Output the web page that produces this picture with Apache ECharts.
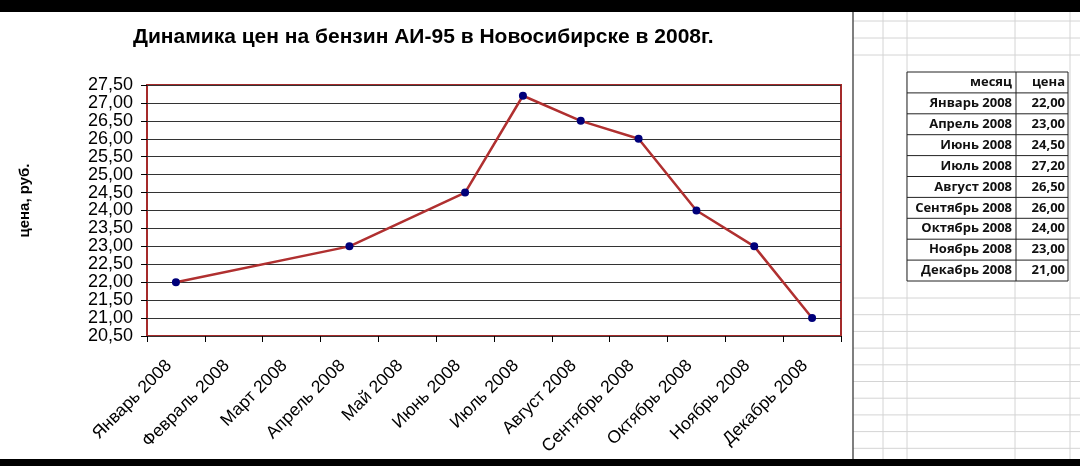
<!DOCTYPE html>
<html>
<head>
<meta charset="utf-8">
<script src="https://cdn.jsdelivr.net/npm/echarts@6/dist/echarts.min.js"></script>
<style>
html,body{margin:0;padding:0;background:#fff;}
#c{width:1080px;height:466px;}
</style>
</head>
<body>
<div id="c"></div>
<script>
const months = ['Январь 2008','Февраль 2008','Март 2008','Апрель 2008','Май 2008','Июнь 2008','Июль 2008','Август 2008','Сентябрь 2008','Октябрь 2008','Ноябрь 2008','Декабрь 2008'];
const prices = [22.00, null, null, 23.00, null, 24.50, 27.20, 26.50, 26.00, 24.00, 23.00, 21.00];
const yMin = 20.5, yMax = 27.5, yStep = 0.5;
const tableHeader = ['месяц', 'цена'];

const fmt = v => v.toFixed(2).replace('.', ',');

const chart = echarts.init(document.getElementById('c'), null, {renderer: 'canvas'});

const g = [];
// black bars top and bottom
g.push({type:'rect', shape:{x:0,y:0,width:1080,height:12}, style:{fill:'#000'}, z:100});
g.push({type:'rect', shape:{x:0,y:459,width:1080,height:7}, style:{fill:'#000'}, z:100});
// spreadsheet grid
const sheetCols = [883, 907, 1015, 1070];
sheetCols.forEach(x => g.push({type:'line', shape:{x1:x,y1:12,x2:x,y2:459}, style:{stroke:'#d4d4d4', lineWidth:1}, z:1}));
const sheetRowsTop = [21, 38, 55];
sheetRowsTop.forEach(y => g.push({type:'line', shape:{x1:853,y1:y,x2:1080,y2:y}, style:{stroke:'#d4d4d4', lineWidth:1}, z:1}));
for (let y = 298; y < 459; y += 16.7) {
  g.push({type:'line', shape:{x1:853,y1:y,x2:1080,y2:y}, style:{stroke:'#d4d4d4', lineWidth:1}, z:1});
}
g.push({type:'line', shape:{x1:853,y1:12,x2:853,y2:459}, style:{stroke:'#555', lineWidth:1.5}, z:2});

// table
const rows = [tableHeader];
months.forEach((m, i) => { if (prices[i] !== null) rows.push([m, fmt(prices[i])]); });
const tX0 = 907, tX1 = 1016, tX2 = 1068, tY0 = 72, rh = 20.9;
const tY1 = tY0 + rh * rows.length;
g.push({type:'rect', shape:{x:tX0,y:tY0,width:tX2-tX0,height:tY1-tY0}, style:{fill:'#fff', stroke:'#222', lineWidth:1}, z:3});
g.push({type:'line', shape:{x1:tX1,y1:tY0,x2:tX1,y2:tY1}, style:{stroke:'#222', lineWidth:1}, z:4});
rows.forEach((r, i) => {
  if (i > 0) g.push({type:'line', shape:{x1:tX0,y1:tY0+rh*i,x2:tX2,y2:tY0+rh*i}, style:{stroke:'#222', lineWidth:1}, z:4});
  const cy = tY0 + rh * i + rh / 2;
  g.push({type:'text', x:tX1-4, y:cy, style:{text:r[0], fill:'#111', font:'700 13px "Open Sans"', align:'right', verticalAlign:'middle'}, z:5});
  g.push({type:'text', x:tX2-3, y:cy, style:{text:r[1], fill:'#111', font:'700 13px "Open Sans"', align:'right', verticalAlign:'middle'}, z:5});
});

chart.setOption({
  backgroundColor: '#fff',
  animation: false,
  title: {
    text: 'Динамика цен на бензин АИ-95 в Новосибирске в 2008г.',
    left: 128, top: 22,
    textStyle: {fontFamily: 'Liberation Sans, Arial', fontWeight: 'bold', fontSize: 21, color: '#000'}
  },
  grid: {left: 147, right: 239, top: 85, bottom: 130, show: true, borderColor: '#a52a2a', borderWidth: 2, backgroundColor: 'transparent'},
  xAxis: {
    type: 'category',
    data: months,
    boundaryGap: true,
    axisLine: {show: false},
    axisTick: {show: true, alignWithLabel: false, length: 6, lineStyle: {color: '#000', width: 1}},
    axisLabel: {interval: 0, rotate: 45, fontFamily: 'Liberation Sans, Arial', fontSize: 17.5, color: '#000', margin: 20, padding: [0, 10, 0, 0]},
    splitLine: {show: false}
  },
  yAxis: {
    type: 'value',
    min: yMin, max: yMax, interval: yStep,
    name: 'цена, руб.',
    nameLocation: 'middle',
    nameRotate: 90,
    nameGap: 115,
    nameTextStyle: {fontFamily: 'Liberation Sans, Arial', fontWeight: 'bold', fontSize: 15, color: '#000', padding: [0, 0, 0, 20]},
    axisLine: {show: false},
    axisTick: {show: true, length: 6, lineStyle: {color: '#000', width: 1}},
    axisLabel: {formatter: fmt, fontFamily: 'Liberation Sans, Arial', fontSize: 18, color: '#000', margin: 14},
    splitLine: {show: true, lineStyle: {color: '#333', width: 1}}
  },
  series: [{
    type: 'line',
    data: prices,
    connectNulls: true,
    symbol: 'circle',
    symbolSize: 8,
    itemStyle: {color: '#00007a'},
    lineStyle: {color: '#b03030', width: 2.5},
    z: 10
  }],
  graphic: g
});
</script>
</body>
</html>
